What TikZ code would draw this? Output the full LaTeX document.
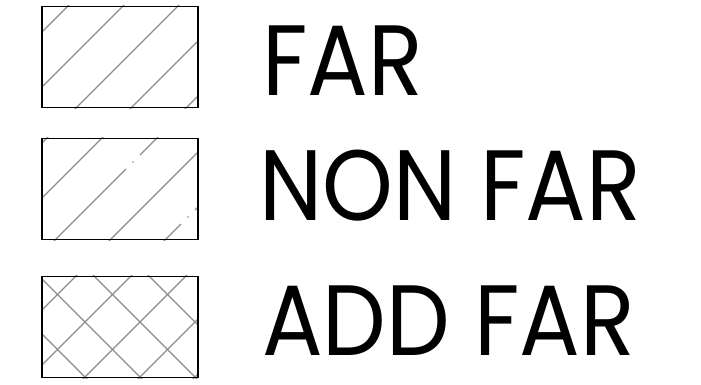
\documentclass[tikz,border=0pt]{standalone}
\usepackage{fontspec}
\newfontfamily\legendfont{Poppins}[FakeStretch=0.9]
\usepackage{tikz}
\pgfdeclarelayer{edgelayer}
\pgfdeclarelayer{nodelayer}
\pgfsetlayers{edgelayer,nodelayer,main}
\definecolor{hatchgray}{RGB}{140,140,140}
\tikzstyle{legendbox}=[draw=black, line width=1.2pt, minimum width=156pt, minimum height=101pt, inner sep=0pt]
\tikzstyle{hatch}=[draw=hatchgray, line width=1.3pt]
\tikzstyle{legend}=[anchor=base west, inner sep=0pt, text depth=0pt, font=\legendfont\fontsize{100}{100}\selectfont]

\begin{document}
\begin{tikzpicture}[x=1pt, y=-1pt]
	\useasboundingbox (0,0) rectangle (701,384);
	\begin{pgfonlayer}{nodelayer}
		\node [style=legendbox] (farbox) at (120,57) {};
		\node [style=legendbox] (nonbox) at (120,189) {};
		\node [style=legendbox] (addbox) at (120,327) {};
		\node [style=legend] (far) at (262,95) {FAR};
		\node [style=legend] (non) at (259,220) {NON FAR};
		\node [style=legend] (add) at (262,355) {ADD FAR};
	\end{pgfonlayer}
	\begin{pgfonlayer}{edgelayer}
		\begin{scope}
			\clip (farbox.south west) rectangle (farbox.north east);
			\foreach \c in {74,129,...,294}
				\draw [style=hatch] (\c,0) -- (\c-120,120);
		\end{scope}
		\begin{scope}
			\clip (nonbox.south west) rectangle (nonbox.north east);
			\foreach \c/\g in {185/300, 240/300, 295/133, 350/300, 405/188} {
				\draw [style=hatch] (\c-120,120) -- (\g+7,\c-\g-7);
				\draw [style=hatch] (\g-7,\c-\g+7) -- (\c-260,260);
				\fill [hatchgray] (\g,\c-\g) circle (0.9pt);
			}
		\end{scope}
		\begin{scope}
			\clip (addbox.south west) rectangle (addbox.north east);
			\foreach \c in {352,407,...,572}
				\draw [style=hatch] (\c-260,260) -- (\c-390,390);
			\foreach \c in {-292,-237,...,-127}
				\draw [style=hatch] (\c+260,260) -- (\c+390,390);
		\end{scope}
	\end{pgfonlayer}
\end{tikzpicture}
\end{document}
